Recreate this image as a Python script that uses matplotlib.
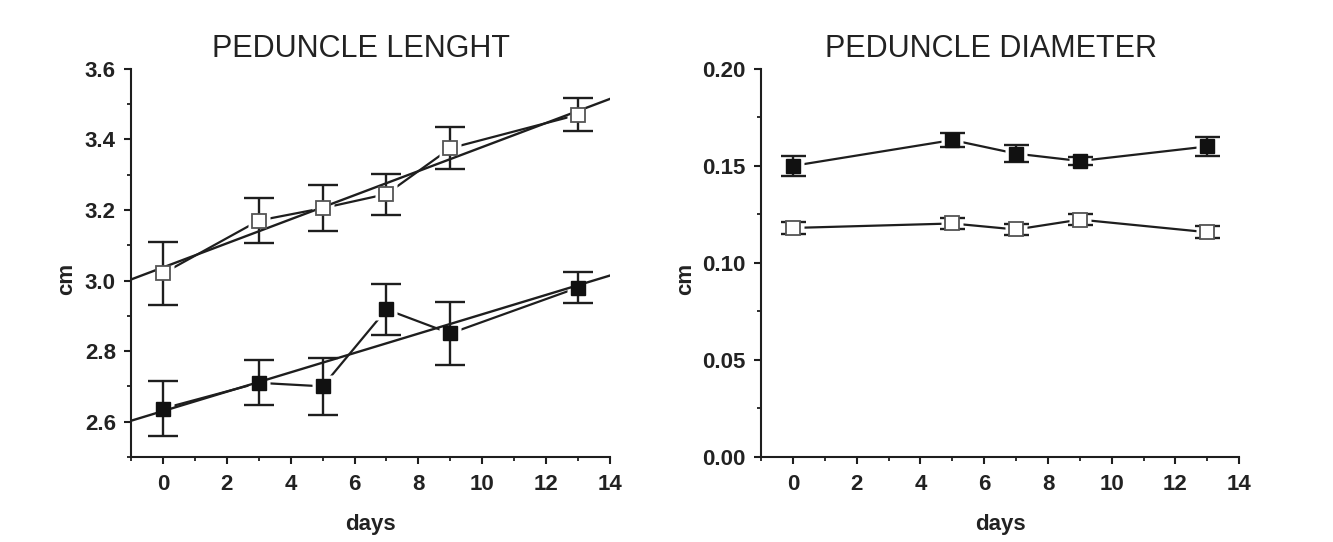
import numpy as np
import matplotlib.pyplot as plt
from matplotlib.ticker import MultipleLocator, FormatStrFormatter

plt.rcParams["font.family"] = ["Liberation Sans", "DejaVu Sans"]

# peduncle length (cm)
len_days = [0, 3, 5, 7, 9, 13]
len_open = [3.02, 3.17, 3.205, 3.245, 3.375, 3.47]
len_open_err = [0.09, 0.065, 0.066, 0.058, 0.06, 0.047]
len_filled = [2.637, 2.71, 2.70, 2.918, 2.85, 2.98]
len_filled_err = [0.078, 0.064, 0.08, 0.073, 0.09, 0.045]

# peduncle diameter (cm)
dia_days = [0, 5, 7, 9, 13]
dia_filled = [0.150, 0.1633, 0.1563, 0.1525, 0.160]
dia_filled_err = [0.005, 0.0037, 0.0045, 0.0022, 0.005]
dia_open = [0.118, 0.1203, 0.1172, 0.1223, 0.1158]
dia_open_err = [0.003, 0.003, 0.003, 0.003, 0.003]

ink = "#1e1e1e"
txt = "#222222"
fig = plt.figure(figsize=(13.33, 5.42), dpi=100)
ax1 = fig.add_axes([0.0983, 0.157, 0.3593, 0.716])
ax2 = fig.add_axes([0.571, 0.157, 0.3586, 0.716])


def draw_series(ax, x, y, err, filled, cap):
    # connecting line, broken near the markers by a white halo
    ax.plot(x, y, color=ink, lw=1.6, zorder=1)
    ax.plot(x, y, ls="none", marker="s", ms=16.5, mfc="white", mec="none",
            zorder=2)
    ax.errorbar(x, y, yerr=err, fmt="none", ecolor=ink, elinewidth=1.7,
                capsize=cap, capthick=1.7, zorder=3)
    if filled:
        ax.plot(x, y, ls="none", marker="s", ms=10.5, mfc="#111111",
                mec="#111111", zorder=4)
    else:
        ax.plot(x, y, ls="none", marker="s", ms=10.5, mfc="white",
                mec="#555555", mew=1.3, zorder=4)


draw_series(ax1, len_days, len_open, len_open_err, False, 11)
draw_series(ax1, len_days, len_filled, len_filled_err, True, 11)

# linear fits across the whole x range
xfit = np.array([-1, 14])
for y in (len_open, len_filled):
    k, b = np.polyfit(len_days, y, 1)
    ax1.plot(xfit, k * xfit + b, color=ink, lw=1.7, zorder=3)

draw_series(ax2, dia_days, dia_filled, dia_filled_err, True, 9)
draw_series(ax2, dia_days, dia_open, dia_open_err, False, 9)

ax1.set_xlim(-1, 14)
ax1.set_ylim(2.5, 3.6)
ax1.set_yticks([2.6, 2.8, 3.0, 3.2, 3.4, 3.6])
ax1.yaxis.set_minor_locator(MultipleLocator(0.1))
ax1.yaxis.set_major_formatter(FormatStrFormatter("%.1f"))

ax2.set_xlim(-1, 14)
ax2.set_ylim(0, 0.2)
ax2.yaxis.set_major_locator(MultipleLocator(0.05))
ax2.yaxis.set_minor_locator(MultipleLocator(0.025))
ax2.yaxis.set_major_formatter(FormatStrFormatter("%.2f"))

titles = ["PEDUNCLE LENGHT", "PEDUNCLE DIAMETER"]
for ax, title in zip((ax1, ax2), titles):
    ax.set_title(title, fontsize=22, pad=8.5, color=txt, x=0.48)
    ax.xaxis.set_major_locator(MultipleLocator(2))
    ax.xaxis.set_minor_locator(MultipleLocator(1))
    ax.spines["top"].set_visible(False)
    ax.spines["right"].set_visible(False)
    for s in ("left", "bottom"):
        ax.spines[s].set_linewidth(1.5)
        ax.spines[s].set_color(ink)
    ax.tick_params(which="major", length=5, width=1.5, color=ink,
                   labelsize=16, labelcolor=txt)
    ax.tick_params(which="minor", length=3, width=1.3, color=ink)
    ax.tick_params(axis="x", which="major", pad=7)
    ax.tick_params(axis="y", which="major", pad=6)
    for lab in ax.get_xticklabels() + ax.get_yticklabels():
        lab.set_fontweight("bold")
    ax.set_xlabel("days", fontsize=16, fontweight="bold", labelpad=14,
                  color=txt)

ax1.text(-0.134, 0.459, "cm", transform=ax1.transAxes, rotation=90,
         ha="center", va="center", fontsize=16, fontweight="bold", color=txt)
ax2.text(-0.157, 0.459, "cm", transform=ax2.transAxes, rotation=90,
         ha="center", va="center", fontsize=16, fontweight="bold", color=txt)

fig.savefig("out.png", dpi=100, facecolor="white")
